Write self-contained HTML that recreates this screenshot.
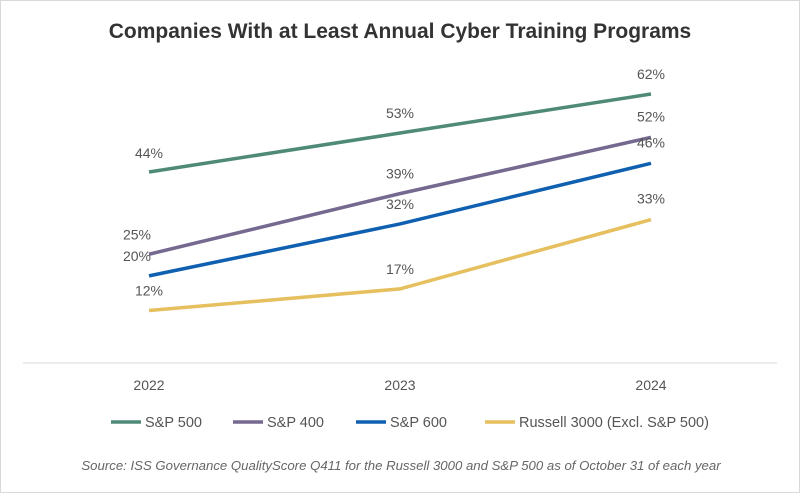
<!DOCTYPE html>
<html><head><meta charset="utf-8"><style>
body{margin:0;background:#fff;font-family:"Liberation Sans",sans-serif}
#wrap{position:relative;width:798px;height:491px;border:1px solid #d9d9d9;background:#fff}
</style></head><body>
<div id="wrap">
<svg id="chart" width="798" height="491"></svg>
</div>
<script>
const years=["2022","2023","2024"];
const seriesNames=["S&P 500","S&P 400","S&P 600","Russell 3000 (Excl. S&P 500)"];
const sp500=[44,53,62];
const sp400=[25,39,52];
const sp600=[20,32,46];
const russell=[12,17,33];
const colors=["#4f8a78","#76698f","#0f60b0","#e6bf5e"];
const allSeries=[sp500,sp400,sp600,russell];
const labelDx=[[0,0,0],[-12,0,0],[-12,0,0],[0,0,0]];
const labelDy=[[-19,-20,-20],[-20,-20,-21],[-20,-20,-21],[-20,-20,-21]];
const NS="http://www.w3.org/2000/svg";
const svg=document.getElementById('chart');
const x=i=>148+i*251;
const y=v=>361.5-v*4.33;
function mk(t,a,txt){const e=document.createElementNS(NS,t);for(const k in a)e.setAttribute(k,a[k]);if(txt!==undefined)e.textContent=txt;svg.appendChild(e);return e;}
let t=mk('text',{x:399,y:37,'text-anchor':'middle','font-size':21,'font-weight':'bold',fill:'#333'},'Companies With at Least Annual Cyber Training Programs');


let ax=mk('line',{x1:22,x2:776,y1:362,y2:362,stroke:'#d9d9d9','stroke-width':1});


years.forEach((yr,i)=>{
 const e=mk('text',{x:x(i),y:389,'text-anchor':'middle','font-size':14,fill:'#555'},yr);
 
 
});
allSeries.forEach((s,si)=>{
 const p=mk('polyline',{points:s.map((v,i)=>x(i)+','+y(v)).join(' '),fill:'none',stroke:colors[si],'stroke-width':3.5});
 
 
 s.forEach((v,i)=>{
  const l=mk('text',{x:x(i)+labelDx[si][i],y:y(v)+labelDy[si][i]+5,'text-anchor':'middle','font-size':14,fill:'#555'},v+'%');
  
  
 });
});
const legX=[110,232,355,484];
seriesNames.forEach((n,i)=>{
 const g=mk('line',{x1:legX[i],x2:legX[i]+30,y1:421,y2:421,stroke:colors[i],'stroke-width':3.5});
 
 
 const l=mk('text',{x:legX[i]+34,y:426,'font-size':14.5,fill:'#555'},n);
 
 
});
const src=mk('text',{x:400,y:469,'text-anchor':'middle','font-size':13.2,'font-style':'italic',fill:'#666'},'Source: ISS Governance QualityScore Q411 for the Russell 3000 and S&P 500 as of October 31 of each year');


</script>
</body></html>
